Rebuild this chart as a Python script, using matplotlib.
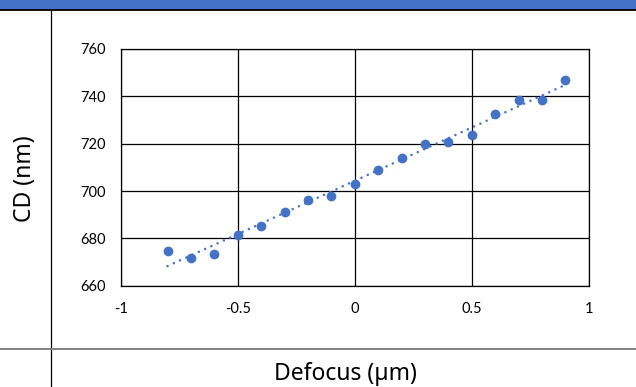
import numpy as np
import matplotlib.pyplot as plt
from matplotlib.lines import Line2D
from matplotlib.patches import Rectangle

# defocus (um) vs measured CD (nm)
defocus = [-0.8, -0.7, -0.6, -0.5, -0.4, -0.3, -0.2, -0.1, 0.0,
           0.1, 0.2, 0.3, 0.4, 0.5, 0.6, 0.7, 0.8, 0.9]
cd_nm = [674.5, 671.5, 673.6, 681.4, 685.3, 691.2, 696.1, 698.1, 703.0,
         708.9, 714.0, 719.8, 720.7, 723.6, 732.5, 738.3, 738.3, 747.1]
x_ticks = [-1, -0.5, 0, 0.5, 1]
x_tick_labels = ['-1', '-0.5', '0', '0.5', '1']
y_ticks = [660, 680, 700, 720, 740, 760]

blue = '#4472C4'
W, H = 636, 387

fig = plt.figure(figsize=(W / 100, H / 100), dpi=100)
fig.patch.set_facecolor('white')

# table-like frame around the chart
fig.add_artist(Rectangle((0, 1 - 9.5 / H), 1, 9.5 / H, transform=fig.transFigure,
                         facecolor=blue, edgecolor='none'))
fig.add_artist(Line2D([0, 1], [1 - 10 / H, 1 - 10 / H], transform=fig.transFigure,
                      color='black', lw=1.3))
fig.add_artist(Line2D([51.3 / W, 51.3 / W], [0, 1 - 10 / H], transform=fig.transFigure,
                      color='black', lw=0.9))
fig.add_artist(Line2D([0, 1], [1 - 349.3 / H, 1 - 349.3 / H], transform=fig.transFigure,
                      color='#808080', lw=1.4))

ax = fig.add_axes([120.7 / W, 1 - 285.7 / H, (588.7 - 120.7) / W, (285.7 - 49) / H])

ax.plot(defocus, cd_nm, 'o', color=blue, markersize=6, zorder=3)

# linear trendline
k, b = np.polyfit(defocus, cd_nm, 1)
xs = np.array([defocus[0], defocus[-1]])
ax.plot(xs, k * xs + b, color=blue, lw=1.8, linestyle=(0, (0.05, 2.7)),
        dash_capstyle='round', zorder=2)

ax.set_xlim(-1, 1)
ax.set_ylim(660, 760)
ax.set_xticks(x_ticks)
ax.set_xticklabels(x_tick_labels)
ax.set_yticks(y_ticks)
ax.grid(True, color='black', lw=0.9)
ax.set_axisbelow(True)
for s in ax.spines.values():
    s.set_color('black')
    s.set_linewidth(0.9)
ax.tick_params(length=0, labelsize=10.5)
ax.tick_params(axis='x', pad=12)
ax.tick_params(axis='y', pad=11)
for lbl in ax.get_xticklabels() + ax.get_yticklabels():
    lbl.set_family(['Lato', 'DejaVu Sans'])

fig.text(25 / W, 1 - 178.5 / H, 'CD (nm)', rotation=90, ha='center', va='center',
         fontsize=16.5, family=['Noto Sans', 'DejaVu Sans'])
fig.text(345 / W, 1 - 380 / H, 'Defocus (µm)', ha='center', va='baseline',
         fontsize=16.5, family=['Noto Sans', 'DejaVu Sans'])

fig.savefig('out.png', dpi=100)
